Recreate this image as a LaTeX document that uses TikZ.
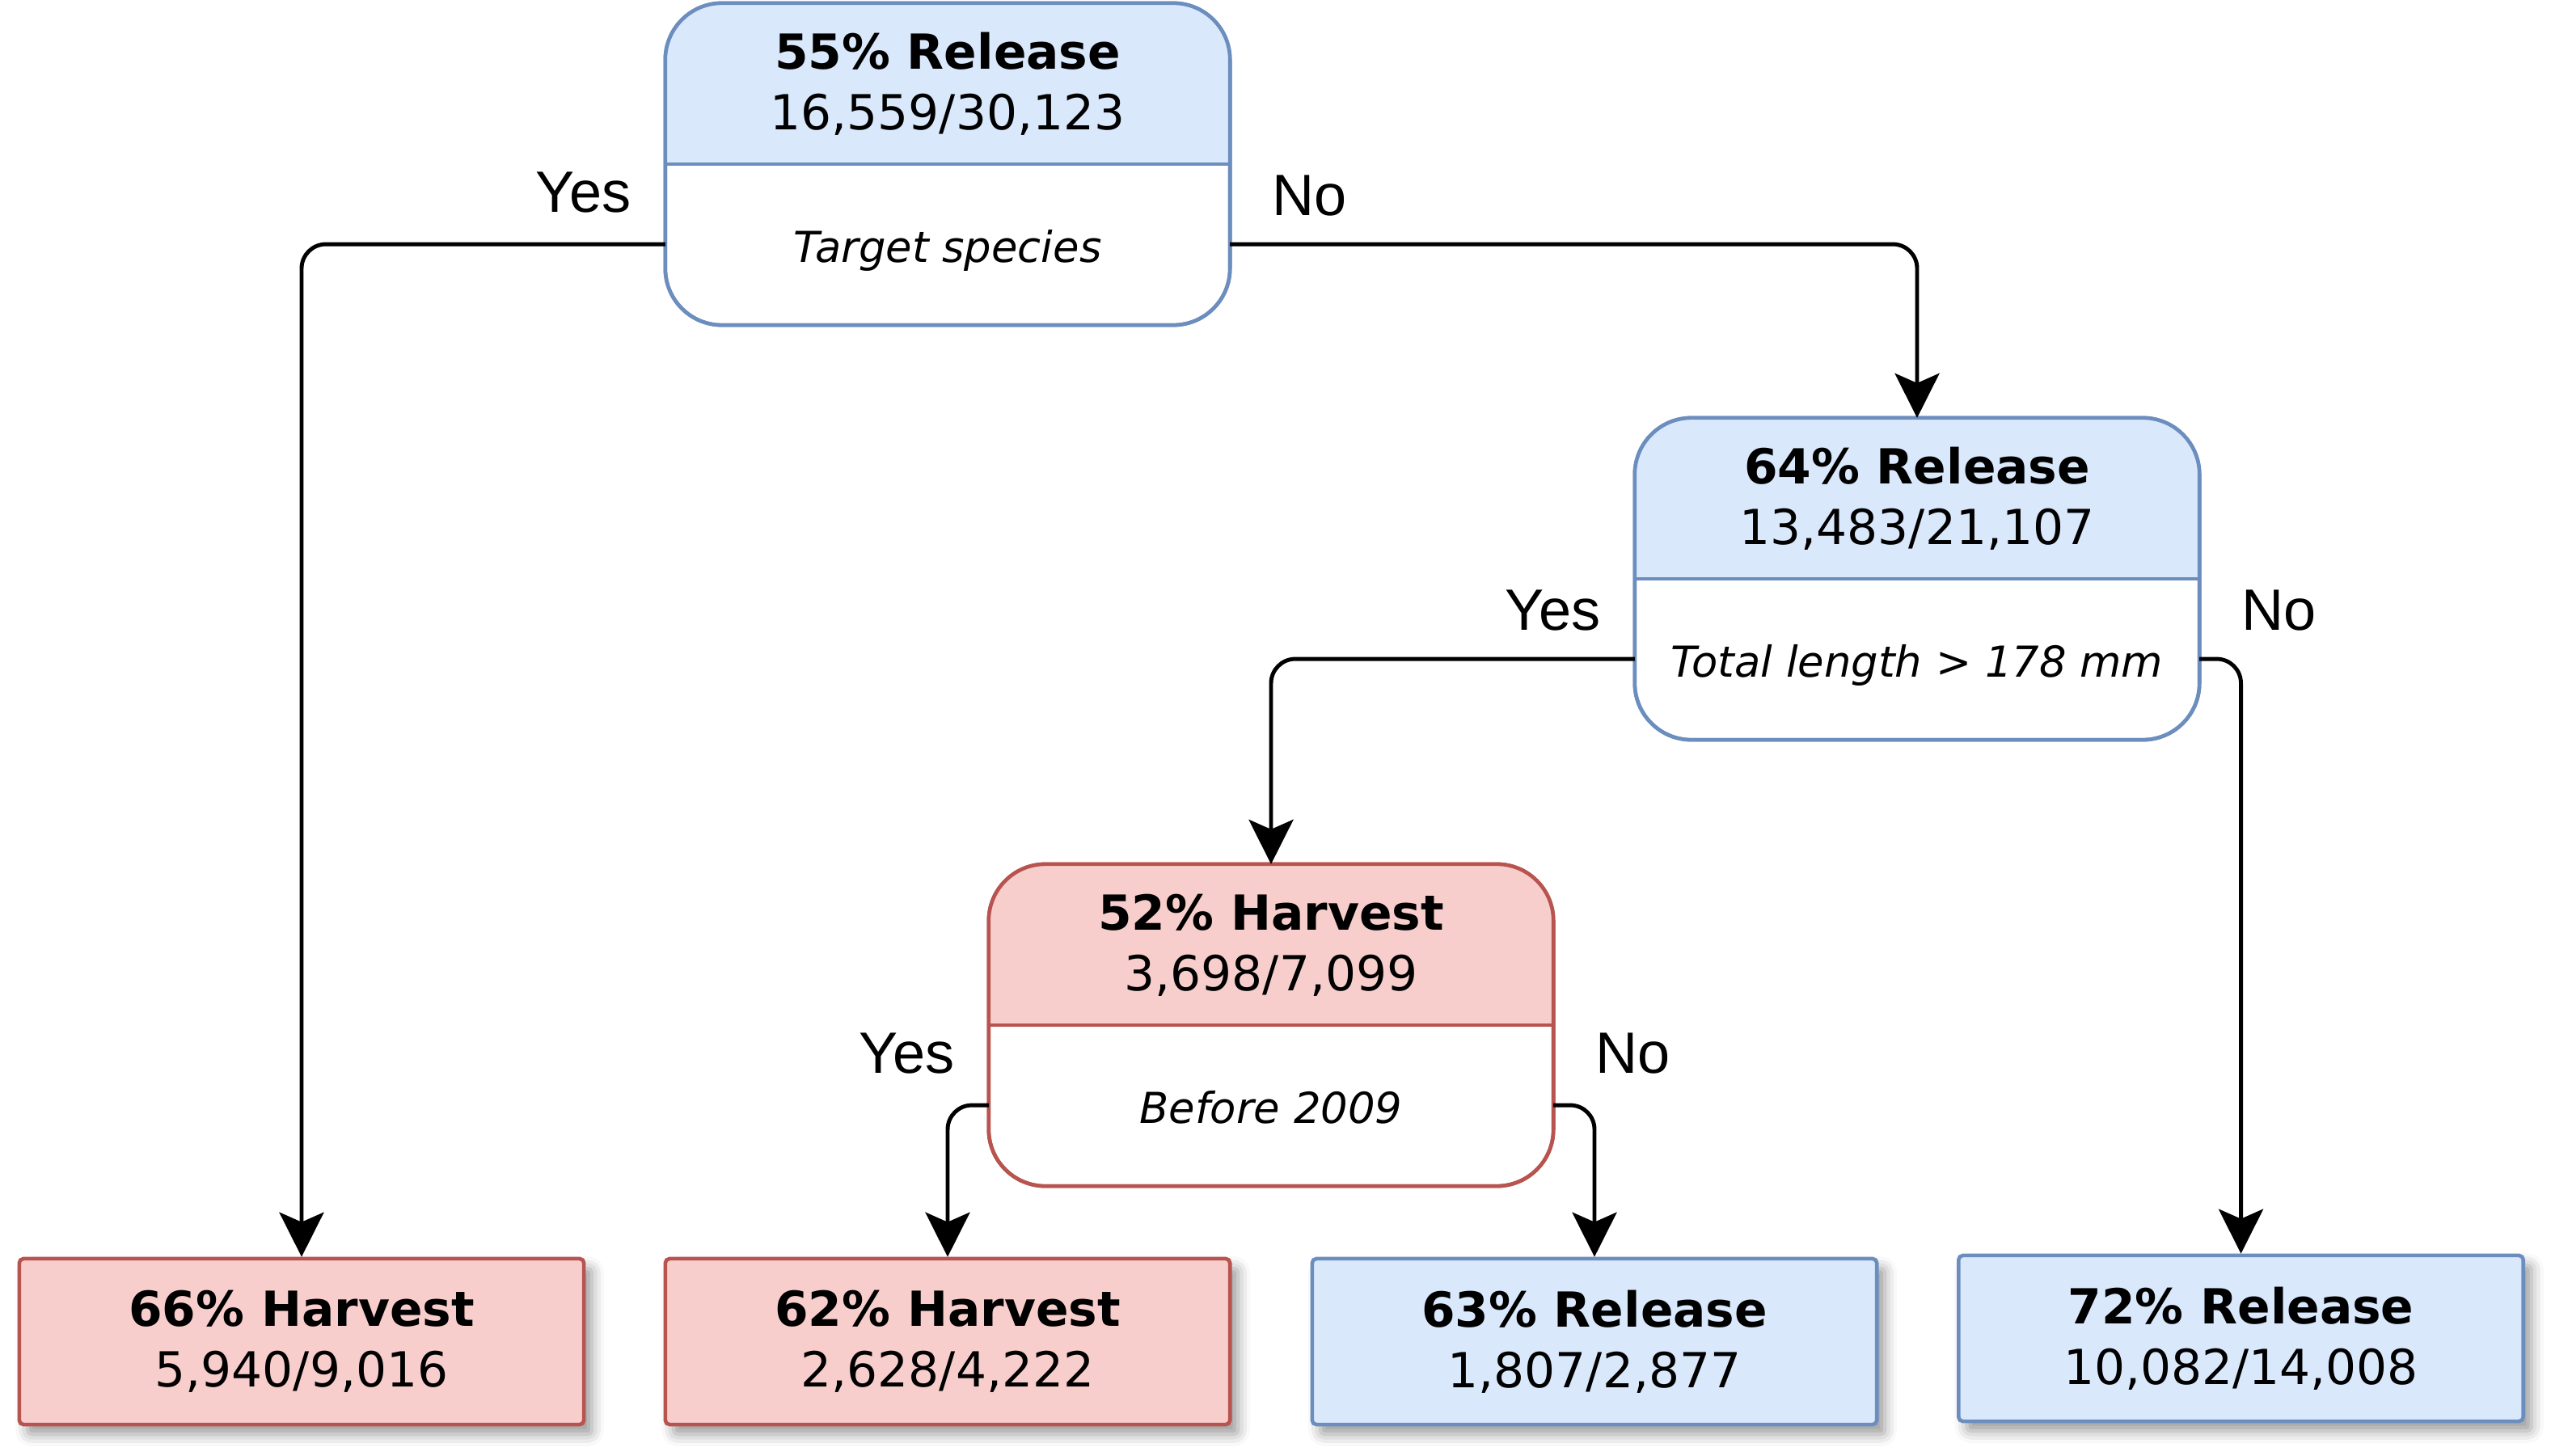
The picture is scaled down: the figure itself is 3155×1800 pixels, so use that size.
\documentclass[tikz,border=0pt]{standalone}
\usepackage{fontspec}
\setmainfont{DejaVu Sans}
\newfontfamily\ynfont{Liberation Sans}
\usepackage{xcolor}
\usetikzlibrary{arrows.meta, positioning, calc, shadows.blur}
\definecolor{relfill}{HTML}{DAE8FC}
\definecolor{relline}{HTML}{6C8EBF}
\definecolor{harfill}{HTML}{F8CECC}
\definecolor{harline}{HTML}{B85450}

\begin{document}
\begin{tikzpicture}[x=0.01cm, y=-0.01cm,
  decbox/.style={draw, fill=white, line width=1.3pt, outer sep=0pt, rounded corners=0.7cm, minimum width=6.98cm, minimum height=3.98cm},
  leaf/.style={draw, line width=1.3pt, rounded corners=1.5pt, minimum width=6.98cm, minimum height=2.05cm, align=center, font=\fontsize{17}{21.3}\selectfont, blur shadow={shadow xshift=0.1cm, shadow yshift=-0.12cm, shadow blur radius=0.15cm, shadow opacity=40}},
  hdr/.style={align=center, font=\fontsize{17}{21.3}\selectfont, inner sep=0pt},
  question/.style={font=\fontsize{15}{18}\selectfont\itshape, inner sep=0pt, text height=12.5pt, text depth=0pt},
  yn/.style={font=\ynfont\fontsize{20.5}{24}\selectfont, inner sep=0pt},
  conn/.style={line width=1.4pt, rounded corners=0.3cm, -{Stealth[length=0.55cm, width=0.55cm, inset=0.12cm]}}
]
\useasboundingbox (0,0) rectangle (3155,1800);

% split nodes
\node[decbox, draw=relline] (root) at (1172,203) {};
\node[decbox, draw=relline] (len) at (2371,716) {};
\node[decbox, draw=harline] (year) at (1572,1268) {};

\foreach \n/\f/\l in {root/relfill/relline, len/relfill/relline, year/harfill/harline}{
  \begin{scope}
    \clip[rounded corners=0.7cm] (\n.south west) rectangle (\n.north east);
    \fill[\f] (\n.north west) rectangle (\n.east);
  \end{scope}
  \draw[\l, line width=1.3pt, rounded corners=0.7cm] (\n.south west) rectangle (\n.north east);
  \draw[\l, line width=1.3pt] (\n.west) -- (\n.east);
}

\node[hdr] (rootH) at ([yshift=0.99cm]root.center) {\textbf{55\% Release}\\16,559/30,123};
\node[question] (rootQ) at ([yshift=-0.99cm]root.center) {Target species};
\node[hdr] (lenH) at ([yshift=0.99cm]len.center) {\textbf{64\% Release}\\13,483/21,107};
\node[question] (lenQ) at ([yshift=-0.99cm]len.center) {Total length > 178 mm};
\node[hdr] (yearH) at ([yshift=0.99cm]year.center) {\textbf{52\% Harvest}\\3,698/7,099};
\node[question] (yearQ) at ([yshift=-0.99cm]year.center) {Before 2009};

% leaves
\node[leaf, draw=harline, fill=harfill] (harA) at (373,1659.5) {\textbf{66\% Harvest}\\5,940/9,016};
\node[leaf, draw=harline, fill=harfill] (harB) at (1172,1659.5) {\textbf{62\% Harvest}\\2,628/4,222};
\node[leaf, draw=relline, fill=relfill] (relC) at (1972,1659.5) {\textbf{63\% Release}\\1,807/2,877};
\node[leaf, draw=relline, fill=relfill] (relD) at (2771.5,1655.5) {\textbf{72\% Release}\\10,082/14,008};

% branches
\draw[conn] (rootQ -| root.west) -| (harA);
\draw[conn] (rootQ -| root.east) -| (len);
\draw[conn] (lenQ -| len.west) -| (year);
\draw[conn] (lenQ -| len.east) -| (relD);
\draw[conn] (yearQ -| year.west) -| (harB);
\draw[conn] (yearQ -| year.east) -| (relC);

\node[yn, anchor=east] (rootYes) at ($(rootQ -| root.west)+(-42,-64)$) {Yes};
\node[yn, anchor=west] (rootNo) at ($(rootQ -| root.east)+(52,-60)$) {No};
\node[yn, anchor=east] (lenYes) at ($(lenQ -| len.west)+(-42,-60)$) {Yes};
\node[yn, anchor=west] (lenNo) at ($(lenQ -| len.east)+(52,-60)$) {No};
\node[yn, anchor=east] (yearYes) at ($(yearQ -| year.west)+(-42,-64)$) {Yes};
\node[yn, anchor=west] (yearNo) at ($(yearQ -| year.east)+(52,-64)$) {No};
\end{tikzpicture}
\end{document}
